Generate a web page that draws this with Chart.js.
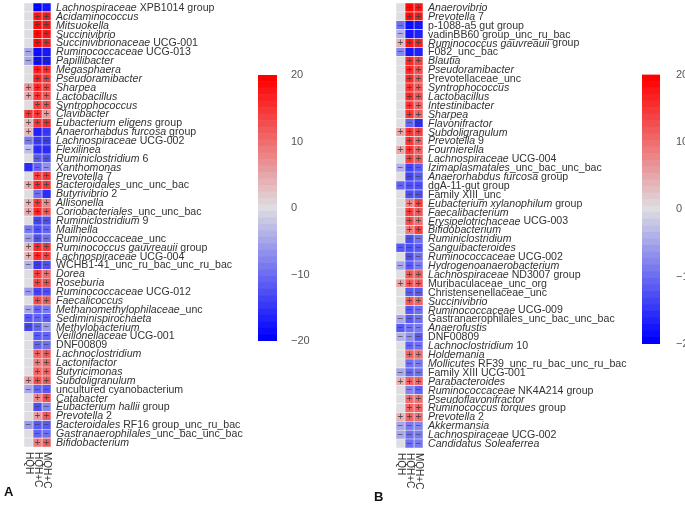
<!DOCTYPE html>
<html>
<head>
<meta charset="utf-8">
<script src="https://cdn.jsdelivr.net/npm/chart.js@4.4.0/dist/chart.umd.min.js"></script>
<style>
  body { margin: 0; background: #fff; width: 685px; height: 505px; position: relative; overflow: hidden; font-family: "Liberation Sans", Arial, sans-serif; }
  canvas { position: absolute; }
  .tag { position: absolute; font-weight: bold; font-size: 13px; color: #111; }
</style>
</head>
<body>
<canvas id="heatA" width="250" height="505" style="left:0;top:0"></canvas>
<canvas id="barA" width="60" height="300" style="left:250px;top:60px"></canvas>
<canvas id="heatB" width="300" height="505" style="left:340px;top:0"></canvas>
<canvas id="barB" width="55" height="300" style="left:630px;top:60px"></canvas>
<div class="tag" style="left:4px;top:484px">A</div>
<div class="tag" style="left:374px;top:489px">B</div>
<script>
// column names (same for both panels)
const groups = ['HQH', 'HQH+C', 'MQH+C']

// panel A: genera, *...* = italic part
const rowsA = [
  '*Lachnospiraceae* XPB1014 group', '*Acidaminococcus*', '*Mitsuokella*', '*Succinivibrio*',
  '*Succinivibrionaceae* UCG-001', '*Ruminococcaceae* UCG-013', '*Papillibacter*', '*Megasphaera*',
  '*Pseudoramibacter*', '*Sharpea*', '*Lactobacillus*', '*Syntrophococcus*', '*Clavibacter*',
  '*Eubacterium eligens* group', '*Anaerorhabdus furcosa* group', '*Lachnospiraceae* UCG-002',
  '*Flexilinea*', '*Ruminiclostridium* 6', '*Xanthomonas*', '*Prevotella* 7',
  '*Bacteroidales*_unc_unc_bac', '*Butyrivibrio* 2', '*Allisonella*', '*Coriobacteriales*_unc_unc_bac',
  '*Ruminiclostridium* 9', '*Mailhella*', '*Ruminococcaceae*_unc', '*Ruminococcus gauvreauii* group',
  '*Lachnospiraceae* UCG-004', 'WCHB1-41_unc_ru_bac_unc_ru_bac', '*Dorea*', '*Roseburia*',
  '*Ruminococcaceae* UCG-012', '*Faecalicoccus*', '*Methanomethylophilaceae*_unc',
  '*Sediminispirochaeta*', '*Methylobacterium*', '*Veillonellaceae* UCG-001', 'DNF00809',
  '*Lachnoclostridium*', '*Lactonifactor*', '*Butyricimonas*', '*Subdoligranulum*',
  'uncultured cyanobacterium', '*Catabacter*', '*Eubacterium hallii* group', '*Prevotella* 2',
  '*Bacteroidales* RF16 group_unc_ru_bac', '*Gastranaerophilales*_unc_bac_unc_bac', '*Bifidobacterium*'
]
const hqhA  = [0, 0, 0, 0, 0, -5, -5, 0, 0, 7, 5, 0, 15, 4, 4, -9, -3, 0, -16, 0,
               5, 0, 4, 5, 0, -9, -6, 4, 4, -4, 0, 0, -6, 0, -5, -12, -14, 0, 0, 0,
               0, 0, 6, -5, 0, 0, 0, -6, 0, 0]
const hqhcA = [-20, 18, 19, 19, 19, -19, -19, 17, 17, 16, 15, 14, 15, 15, -17, -15, -16, -12, -11, 14,
               16, -10, 15, 16, -14, -13, -13, 16, 16, -15, 14, 14, -14, 13, -11, -11, -11, -12, -11, 11,
               9, 11, 13, -11, 8, -13, 6, -12, -11, 9]
const mqhcA = [-18, 18, 18, 18, 17, -18, -18, 16, 15, 14, 12, 13, 6, 16, -15, -15, -16, -13, -7, 15,
               15, -16, 8, 12, -13, -11, -10, 15, 14, -13, 10, 13, -13, 12, -9, -12, -6, -11, -10, 12,
               11, 11, 12, -12, 13, -8, 12, -12, -10, 12]

// panel B
const rowsB = [
  '*Anaerovibrio*', '*Prevotella* 7', 'p-1088-a5 gut group', 'vadinBB60 group_unc_ru_bac',
  '*Ruminococcus gauvreauii* group', 'F082_unc_bac', '*Blautia*', '*Pseudoramibacter*',
  'Prevotellaceae_unc', '*Syntrophococcus*', '*Lactobacillus*', '*Intestinibacter*', '*Sharpea*',
  '*Flavonifractor*', '*Subdoligranulum*', '*Prevotella* 9', '*Fournierella*', '*Lachnospiraceae* UCG-004',
  '*Izimaplasmatales*_unc_bac_unc_bac', '*Anaerorhabdus furcosa* group', 'dgA-11-gut group',
  'Family XIII_unc', '*Eubacterium xylanophilum* group', '*Faecalibacterium*',
  '*Erysipelotrichaceae* UCG-003', '*Bifidobacterium*', '*Ruminiclostridium*', '*Sanguibacteroides*',
  '*Ruminococcaceae* UCG-002', '*Hydrogenoanaerobacterium*', '*Lachnospiraceae* ND3007 group',
  'Muribaculaceae_unc_org', 'Christensenellaceae_unc', '*Succinivibrio*', '*Ruminococcaceae* UCG-009',
  'Gastranaerophilales_unc_bac_unc_bac', '*Anaerofustis*', 'DNF00809', '*Lachnoclostridium* 10',
  '*Holdemania*', '*Mollicutes* RF39_unc_ru_bac_unc_ru_bac', 'Family XIII UCG-001', '*Parabacteroides*',
  '*Ruminococcaceae* NK4A214 group', '*Pseudoflavonifractor*', '*Ruminococcus torques* group',
  '*Prevotella* 2', '*Akkermansia*', '*Lachnospiraceae* UCG-002', '*Candidatus Soleaferrea*'
]
const hqhB  = [0, 0, -10, -4, 4, -8, 0, 0, 0, 0, 0, 0, 0, 0, 5, 0, 5, 0, -4, 0,
               -11, 0, 0, 0, 0, 0, 0, -12, 0, -5, 0, 5, 0, 0, 0, -5, -12, -4, 0, 0,
               0, -5, 4, 0, 0, 0, 4, -5, -5, 0]
const hqhcB = [19, 19, -19, -18, 18, -18, 16, 16, 16, 15, 16, 15, 15, -11, 15, 15, 15, 14, -14, -14,
               -13, -13, 8, 14, 13, 9, -13, -13, -13, -12, 12, 12, -12, 12, -12, -12, -10, -7, -11, 11,
               -10, -11, 11, -8, 10, 11, 11, -9, -10, -10]
const mqhcB = [18, 18, -18, -17, 17, -17, 14, 13, 12, 12, 13, 11, 11, -16, 14, 11, 11, 12, -12, -12,
               -13, -13, 14, 12, 10, 14, -10, -12, -10, -9, 12, 12, -12, 11, -10, -10, -9, -12, -10, 10,
               -9, -10, 11, -11, 10, 11, 10, -8, -9, -9]

// colour scale ticks
const scaleTicks = [-20, -10, 0, 10, 20]

const ZERO = [222, 222, 226], RED = [255, 0, 0], BLUE = [0, 0, 255]
function cellColor(v) {
  const t = Math.min(Math.abs(v) / 20, 1)
  const end = v > 0 ? RED : BLUE
  return 'rgb(' + ZERO.map((z, i) => Math.round(z + (end[i] - z) * t)).join(',') + ')'
}

function segments(label) {
  return label.split('*').map((s, i) => [s, i % 2 === 1]).filter(s => s[0])
}

const heatText = {
  id: 'heatText',
  afterDatasetsDraw(chart) {
    const ctx = chart.ctx
    const area = chart.chartArea
    const x = chart.scales.x, y = chart.scales.y
    ctx.save()
    // +/- marks
    ctx.font = '10px "Liberation Sans", Arial, sans-serif'
    ctx.fillStyle = 'rgba(60,60,60,0.85)'
    ctx.textAlign = 'center'
    ctx.textBaseline = 'middle'
    chart.data.datasets.forEach((ds, c) => {
      chart.getDatasetMeta(c).data.forEach((bar, i) => {
        const v = ds.values[i]
        if (!v) return
        const p = bar.getProps(['x', 'y', 'base'], true)
        ctx.fillText(v > 0 ? '+' : '\u2212', (p.x + p.base) / 2, p.y + 0.5)
      })
    })
    // row labels
    ctx.textAlign = 'left'
    ctx.fillStyle = '#333'
    chart.options.rowLabels.forEach((lab, i) => {
      let px = area.right + 5
      const py = y.getPixelForValue(i) + 0.5
      segments(lab).forEach(([s, it]) => {
        ctx.font = (it ? 'italic ' : '') + '10.6px "Liberation Sans", Arial, sans-serif'
        ctx.fillText(s, px, py)
        px += ctx.measureText(s).width
      })
    })
    // column labels, rotated
    ctx.font = '10px "Liberation Sans", Arial, sans-serif'
    groups.forEach((g, c) => {
      ctx.save()
      ctx.translate(x.getPixelForValue(c + 0.5), area.bottom + 5)
      ctx.rotate(Math.PI / 2)
      ctx.fillText(g, 0, 0)
      ctx.restore()
    })
    ctx.restore()
  }
}

function makeHeat(id, rows, cols, pad) {
  new Chart(document.getElementById(id), {
    type: 'bar',
    data: {
      labels: rows.map(r => r.replace(/\*/g, '')),
      datasets: cols.map((vals, c) => ({
        data: vals.map(() => [c, c + 1]),
        values: vals,
        backgroundColor: vals.map(cellColor),
        borderColor: '#f6f6f6',
        borderWidth: 0.6,
        borderSkipped: false,
        grouped: false,
        barPercentage: 1,
        categoryPercentage: 1,
      })),
    },
    options: {
      indexAxis: 'y',
      responsive: false,
      animation: false,
      rowLabels: rows,
      layout: { padding: pad },
      plugins: { legend: { display: false }, tooltip: { enabled: false } },
      scales: {
        x: { type: 'linear', min: 0, max: 3, display: false },
        y: { display: false },
      },
    },
    plugins: [heatText],
  })
}

function makeScale(id, pad, axisWidth, tickPad) {
  const bands = []
  for (let k = 0; k <= 40; k++) bands.push(k)
  new Chart(document.getElementById(id), {
    type: 'bar',
    data: {
      labels: [''],
      datasets: bands.map(k => ({
        data: [[-20 + k * 40 / 41, -20 + (k + 1) * 40 / 41]],
        backgroundColor: cellColor(k - 20),
        borderWidth: 0,
        grouped: false,
        barPercentage: 1,
        categoryPercentage: 1,
      })),
    },
    options: {
      responsive: false,
      animation: false,
      layout: { padding: pad },
      plugins: { legend: { display: false }, tooltip: { enabled: false } },
      scales: {
        x: { display: false },
        y: {
          position: 'right', min: -20, max: 20,
          afterBuildTicks: s => { s.ticks = scaleTicks.map(v => ({ value: v })) },
          afterFit: s => { s.width = axisWidth },
          grid: { display: false }, border: { display: false },
          ticks: {
            padding: tickPad, color: '#555',
            font: { size: 11, family: '"Liberation Sans", Arial, sans-serif' },
            callback: v => String(v).replace('-', '\u2212'),
          },
        },
      },
    },
  })
}

makeHeat('heatA', rowsA, [hqhA, hqhcA, mqhcA], { left: 24, right: 199, top: 3, bottom: 58 })
makeHeat('heatB', rowsB, [hqhB, hqhcB, mqhcB], { left: 56, right: 217, top: 3, bottom: 57 })
makeScale('barA', { left: 8, right: 0, top: 15, bottom: 19 }, 33, 6)
makeScale('barB', { left: 12, right: 0, top: 14, bottom: 16 }, 25, 8)
</script>
</body>
</html>
